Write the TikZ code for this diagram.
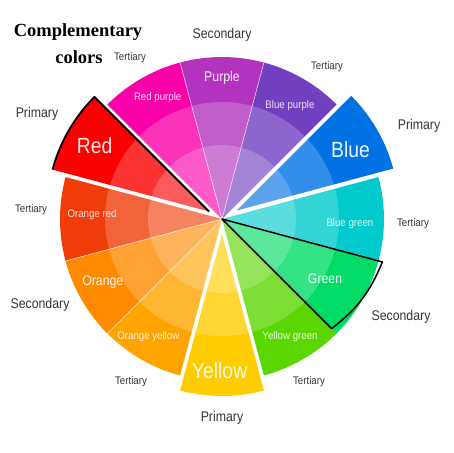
\documentclass[tikz,border=0pt]{standalone}
\usepackage{fontspec}
\usepackage{xcolor}
\usepackage{tikz}
\usetikzlibrary{calc}

\newfontfamily\condsans[FakeStretch=0.88]{Liberation Sans}
\newfontfamily\headserif{Liberation Serif}

\definecolor{cpurple}{HTML}{B234BE}
\definecolor{credpurple}{HTML}{FA00A8}
\definecolor{cred}{HTML}{FA0000}
\definecolor{corangered}{HTML}{F03C08}
\definecolor{corange}{HTML}{FF8A00}
\definecolor{corangeyellow}{HTML}{FFA400}
\definecolor{cyellow}{HTML}{FFCC00}
\definecolor{cyellowgreen}{HTML}{5CD600}
\definecolor{cgreen}{HTML}{00DC66}
\definecolor{cbluegreen}{HTML}{00CACC}
\definecolor{cblue}{HTML}{0072E4}
\definecolor{cbluepurple}{HTML}{7040C0}
\definecolor{rimtext}{HTML}{333333}

\begin{document}
\begin{tikzpicture}[
      x=1pt, y=1pt,
      outline/.style={
        draw=black,
        line width=1.8pt,
        line join=round
      },
      split/.style={
        draw=white,
        line width=0.7pt,
        draw opacity=0.6
      },
      ring/.style={
        fill=white,
        fill opacity=0.2
      },
      wheelbig/.style={
        text=white,
        text opacity=0.9,
        font=\condsans\fontsize{22}{24}\selectfont
      },
      wheelmid/.style={
        text=white,
        text opacity=0.9,
        font=\condsans\fontsize{14}{16}\selectfont
      },
      wheelsmall/.style={
        text=white,
        text opacity=0.85,
        font=\condsans\fontsize{11}{13}\selectfont
      },
      rim/.style={
        text=rimtext,
        font=\condsans\fontsize{14}{16}\selectfont
      },
      rimsmall/.style={
        text=rimtext,
        font=\condsans\fontsize{11}{13}\selectfont
      },
      heading/.style={
        anchor=base,
        inner sep=0pt,
        font=\headserif\bfseries\fontsize{18.5}{20}\selectfont
      }
    ]

    \useasboundingbox (-222,-234) rectangle (231,219);

    \coordinate (C) at (0,0);
    \coordinate (redtip) at (150:15);
    \coordinate (bluetip) at (30:17);
    \coordinate (yellowtip) at (270:15);

    % sectors
    \fill[cbluepurple] (C) -- (45:162) arc[start angle=45, end angle=75, radius=162] -- cycle;
    \fill[cpurple] (C) -- (75:162) arc[start angle=75, end angle=105, radius=162] -- cycle;
    \fill[credpurple] (C) -- (105:162) arc[start angle=105, end angle=135, radius=162] -- cycle;
    \fill[cred] (redtip) -- ++(135:162) arc[start angle=135, end angle=165, radius=162] -- cycle;
    \fill[corangered] (C) -- (165:162) arc[start angle=165, end angle=195, radius=162] -- cycle;
    \fill[corange] (C) -- (195:162) arc[start angle=195, end angle=225, radius=162] -- cycle;
    \fill[corangeyellow] (C) -- (225:162) arc[start angle=225, end angle=255, radius=162] -- cycle;
    \fill[cyellow] (yellowtip) -- ++(255:162) arc[start angle=255, end angle=285, radius=162] -- cycle;
    \fill[cyellowgreen] (C) -- (285:162) arc[start angle=285, end angle=315, radius=162] -- cycle;
    \fill[cgreen] (C) -- (315:162) arc[start angle=315, end angle=345, radius=162] -- cycle;
    \fill[cbluegreen] (C) -- (345:162) arc[start angle=345, end angle=375, radius=162] -- cycle;
    \fill[cblue] (bluetip) -- ++(15:162) arc[start angle=15, end angle=45, radius=162] -- cycle;

    \draw[split] (C) -- (75:162);
    \draw[split] (C) -- (105:162);
    \draw[split] (C) -- (195:162);
    \draw[split] (C) -- (225:162);

    \fill[ring] (C) circle (117);
    \fill[ring] (C) circle (74);

    % complementary pair
    \draw[outline] (redtip) ++(165:162) arc[start angle=165, end angle=135, radius=162] -- (redtip);
    \draw[outline, line width=1.5pt] (C) -- (345:166) to[bend left=15] (315:155) -- cycle;

    \node[wheelbig] (red) at ($(redtip)+(150:132)$) {Red};
    \node[wheelbig] (blue) at ($(bluetip)+(28:129)$) {Blue};
    \node[wheelbig] (yellow) at ($(yellowtip)+(269:137)$) {Yellow};

    \node[wheelmid] (purple) at (90:141) {Purple};
    \node[wheelmid] (orange) at (208:135) {Orange};
    \node[wheelmid] (green) at (330:119) {Green};

    \node[wheelsmall] (redpurple) at (118:137) {Red purple};
    \node[wheelsmall] (bluepurple) at (59:132) {Blue purple};
    \node[wheelsmall] (orangered) at (178:130) {Orange red};
    \node[wheelsmall] (bluegreen) at (358:128) {Blue green};
    \node[wheelsmall] (orangeyellow) at (238:139) {Orange yellow};
    \node[wheelsmall] (yellowgreen) at (300:136) {Yellow green};

    \node[rim] (secondtop) at (0,184) {Secondary};
    \node[rim] (primleft) at (-185,105) {Primary};
    \node[rim] (primright) at (197,93) {Primary};
    \node[rim] (secondleft) at (-182,-86) {Secondary};
    \node[rim] (secondright) at (179,-98) {Secondary};
    \node[rim] (primbottom) at (0,-199) {Primary};

    \node[rimsmall] (terttopleft) at (-92,161) {Tertiary};
    \node[rimsmall] (terttopright) at (105,152) {Tertiary};
    \node[rimsmall] (tertleft) at (-191,9) {Tertiary};
    \node[rimsmall] (tertright) at (191,-5) {Tertiary};
    \node[rimsmall] (tertbotleft) at (-91,-163) {Tertiary};
    \node[rimsmall] (tertbotright) at (87,-163) {Tertiary};

    \node[heading] (complementary) at (-144,182.5) {Complementary};
    \node[heading] (colors) at (-143,156) {colors};

\end{tikzpicture}
\end{document}
